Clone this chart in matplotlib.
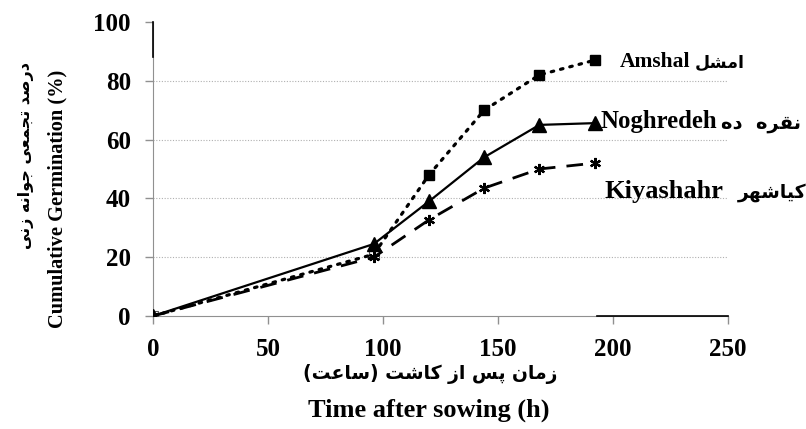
import matplotlib
matplotlib.use("Agg")
import matplotlib.pyplot as plt

# ---- data ----
hours = [0, 96, 120, 144, 168, 192]
amshal = [0, 21, 48, 70, 82, 87]
noghredeh = [0, 24.5, 39, 54, 65, 65.6]
kiyashahr = [0, 20, 32.7, 43.5, 50, 52]

xticks = [0, 50, 100, 150, 200, 250]
yticks = [0, 20, 40, 60, 80, 100]

# Latin / Persian label parts (Persian in visual, shaped order)
name_amshal = "Amshal"
fa_amshal = "\ufede\ufeb8\ufee3\ufe8d"
name_nogh = "Noghredeh"
fa_nogh = "\ufee9\ufea9  \ufee9\ufeae\ufed8\ufee7"
name_kiya = "Kiyashahr"
fa_kiya = "\ufeae\ufeec\ufeb7\ufe8e\ufbff\ufb90"
ylab_fa = "\ufef0\ufee7\ufeaf \ufeea\ufee7\ufe8d\ufeee\ufe9f \ufef0\ufecc\ufee4\ufea0\ufe97 \ufeaa\ufebb\ufead\ufea9"
ylab_en = "Cumulative Germination (%)"
xlab_fa = "(\ufe96\ufecb\ufe8e\ufeb3) \ufe96\ufeb7\ufe8e\ufb90 \ufeaf\ufe8d \ufeb2\ufb58 \ufee5\ufe8e\ufee3\ufeaf"
xlab_en = "Time after sowing (h)"

SERIF = "Liberation Serif"
FA = "DejaVu Sans"

W, H = 806, 429
fig = plt.figure(figsize=(W / 100, H / 100), dpi=100)
ax = fig.add_axes([153 / W, 113 / H, 575 / W, 294 / H])

ax.set_xlim(0, 250)
ax.set_ylim(0, 100)

# grid
for yv in yticks[1:-1]:
    ax.axhline(yv, color="#b0b0b0", lw=0.8, ls=(0, (1, 1.5)), zorder=0)

# series
ax.plot(hours, amshal, color="black", lw=2.3, ls=(0, (0.8, 2.2)),
        dash_capstyle="round", marker="s", ms=7.5, mfc="black", mec="black",
        markevery=[2, 3, 4, 5], zorder=3)
ax.plot(hours[:2], amshal[:2], ls="none", marker="s", ms=7.5, mfc="white",
        mec="#555555", mew=0.8, zorder=3)
ax.plot(hours, noghredeh, color="black", lw=1.6, ls="-",
        marker="^", ms=9.5, mfc="black", mec="black", zorder=4)
ax.plot(hours, kiyashahr, color="black", lw=2.0, ls=(0, (6, 4)),
        marker=(6, 2, 0), ms=8, mew=1.6, mec="black", zorder=5)

# spines
for s in ["top", "right"]:
    ax.spines[s].set_visible(False)
ax.spines["left"].set_color("#909090")
ax.spines["bottom"].set_color("#909090")
ax.axvline(0, ymin=0.88, ymax=1.0, color="black", lw=1.2, zorder=6, clip_on=False)
ax.axhline(0, xmin=0.773, xmax=1.0, color="black", lw=1.2, zorder=6, clip_on=False)

ax.set_xticks(xticks)
ax.set_yticks(yticks)
ax.tick_params(axis="both", direction="out", length=6, width=1, color="#909090",
               labelsize=18, pad=10)
for lab in ax.get_xticklabels() + ax.get_yticklabels():
    lab.set_fontfamily(SERIF)
    lab.set_fontweight("bold")


def series_label(x, y, name, fa, size, fa_size, gap):
    t = ax.text(x, y, name, family=SERIF, weight="bold", fontsize=size,
                ha="left", va="center", clip_on=False)
    ax.annotate(fa, xy=(1, 0.45), xycoords=t, xytext=(gap, 0),
                textcoords="offset points", family=FA, weight="bold",
                fontsize=fa_size, ha="left", va="center", annotation_clip=False)


series_label(203, 86.4, name_amshal, fa_amshal, 15.5, 12.5, 3)
series_label(194.5, 66, name_nogh, fa_nogh, 17.8, 14, 3)
series_label(196.5, 42.5, name_kiya, fa_kiya, 19, 13.5, 10)

# axis labels
fig.text(26 / W, 1 - 62 / H, ylab_fa, family=FA, weight="bold",
         fontsize=11.5, rotation=90, ha="center", va="top")
fig.text(57 / W, 1 - 70 / H, ylab_en, family=SERIF, weight="bold",
         fontsize=14.7, rotation=90, ha="center", va="top")
fig.text(430 / W, 1 - 374 / H, xlab_fa, family=FA, weight="bold",
         fontsize=13.5, ha="center", va="center")
fig.text(429 / W, 1 - 410 / H, xlab_en, family=SERIF, weight="bold",
         fontsize=19, ha="center", va="center")

fig.savefig("out.png", dpi=100)
